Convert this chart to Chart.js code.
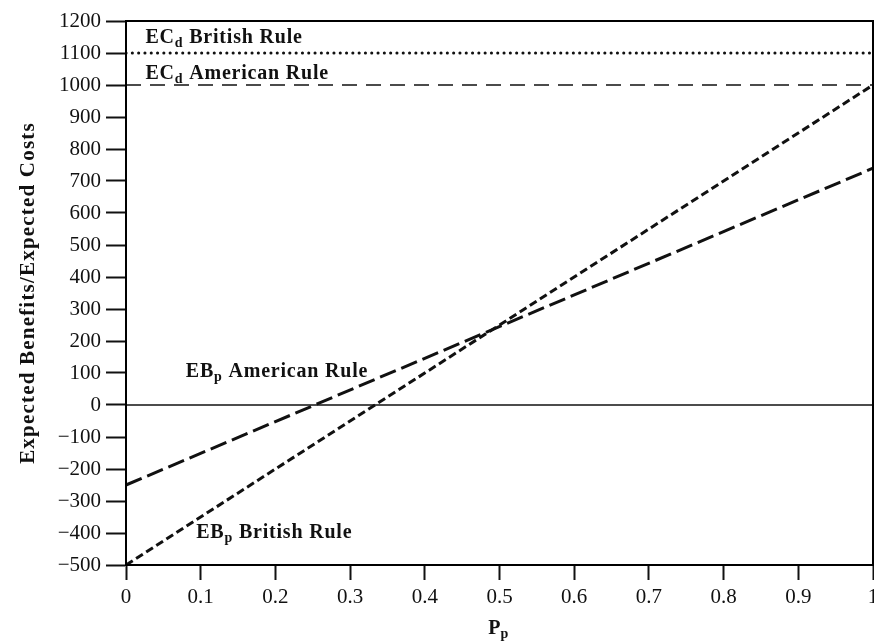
<!DOCTYPE html>
<html lang="en">
<head>
    <meta charset="UTF-8">
    <title>Expected Benefits / Expected Costs</title>
    <style>
        body {
            margin: 0;
            background: #ffffff;
            overflow: hidden;
        }

        .wrap {
            width: 874px;
            height: 642px;
            overflow: hidden;
        }

        .chart-box {
            width: 890px;
            height: 642px;
        }
    </style>
    <script src="https://cdn.jsdelivr.net/npm/chart.js"></script>
</head>
<body>
    <div class="wrap">
        <div class="chart-box">
            <canvas id="chart"></canvas>
        </div>
    </div>

    <script>
        // values
        const pp = [0, 1];
        const ebAmerican = [-250, 740];
        const ebBritish = [-500, 1000];
        const ecAmerican = [1000, 1000];
        const ecBritish = [1100, 1100];
        const zeroLine = [0, 0];

        const yTicks = { min: -500, max: 1200, step: 100 };
        const xTicks = { min: 0, max: 1, step: 0.1 };

        const yTitle = 'Expected Benefits/Expected Costs';

        // text labels inside the plot (main, subscript, rest) at data positions
        const notes = [
            { main: 'EC', sub: 'd', rest: ' British Rule', x: 0.026, y: 1146 },
            { main: 'EC', sub: 'd', rest: ' American Rule', x: 0.026, y: 1036 },
            { main: 'EB', sub: 'p', rest: ' American Rule', x: 0.08, y: 104 },
            { main: 'EB', sub: 'p', rest: ' British Rule', x: 0.094, y: -400 }
        ];

        const SERIF = '"Liberation Serif", "DejaVu Serif", serif';

        function toPoints(ys) {
            return pp.map((x, i) => ({ x: x, y: ys[i] }));
        }

        function drawSubText(ctx, parts, x, y, size) {
            ctx.font = 'bold ' + size + 'px ' + SERIF;
            ctx.fillText(parts.main, x, y);
            let cx = x + ctx.measureText(parts.main).width;
            ctx.font = 'bold ' + Math.round(size * 0.68) + 'px ' + SERIF;
            ctx.fillText(parts.sub, cx, y + size * 0.28);
            cx += ctx.measureText(parts.sub).width;
            ctx.font = 'bold ' + size + 'px ' + SERIF;
            if (parts.rest) ctx.fillText(parts.rest, cx, y);
        }

        const textPlugin = {
            id: 'textPlugin',
            afterDraw(chart) {
                const ctx = chart.ctx;
                const xs = chart.scales.x;
                const ys = chart.scales.y;
                const area = chart.chartArea;
                ctx.save();
                // frame round the plot
                ctx.strokeStyle = '#000';
                ctx.lineWidth = 2;
                ctx.strokeRect(area.left, area.top, area.right - area.left, area.bottom - area.top);

                ctx.fillStyle = '#111';
                ctx.textBaseline = 'middle';
                ctx.textAlign = 'left';
                ctx.letterSpacing = '0.8px';
                notes.forEach(n => {
                    drawSubText(ctx, n, xs.getPixelForValue(n.x), ys.getPixelForValue(n.y), 20);
                });

                // x axis title P_p
                ctx.letterSpacing = '0px';
                drawSubText(ctx, { main: 'P', sub: 'p', rest: '' }, xs.getPixelForValue(0.485), area.bottom + 64, 20);

                // y axis title, rotated
                ctx.save();
                ctx.translate(29, (area.top + area.bottom) / 2);
                ctx.rotate(-Math.PI / 2);
                ctx.textAlign = 'center';
                ctx.letterSpacing = '1.2px';
                ctx.font = 'bold 21px ' + SERIF;
                ctx.fillText(yTitle, 0, 0);
                ctx.restore();

                ctx.restore();
            }
        };

        const lineStyle = (dash, width, cap) => ({
            borderColor: '#111',
            borderWidth: width,
            borderDash: dash,
            borderCapStyle: cap || 'butt',
            pointRadius: 0,
            fill: false,
            tension: 0
        });

        new Chart(document.getElementById('chart').getContext('2d'), {
            type: 'line',
            data: {
                datasets: [
                    Object.assign({ label: 'EBp American Rule', data: toPoints(ebAmerican) }, lineStyle([17, 6], 3)),
                    Object.assign({ label: 'EBp British Rule', data: toPoints(ebBritish) }, lineStyle([8, 4], 3)),
                    Object.assign({ label: 'ECd American Rule', data: toPoints(ecAmerican) }, lineStyle([15, 9], 1.6)),
                    Object.assign({ label: 'ECd British Rule', data: toPoints(ecBritish) }, lineStyle([0.1, 6.2], 3, 'round')),
                    Object.assign({ label: 'zero', data: toPoints(zeroLine) }, lineStyle([], 1.5))
                ]
            },
            options: {
                responsive: true,
                maintainAspectRatio: false,
                animation: false,
                layout: { padding: { top: 21, right: 17, left: 0, bottom: 0 } },
                plugins: {
                    legend: { display: false },
                    tooltip: { enabled: false }
                },
                scales: {
                    x: {
                        type: 'linear',
                        min: xTicks.min,
                        max: xTicks.max,
                        afterFit: s => { s.height = 77; },
                        ticks: {
                            stepSize: xTicks.step,
                            color: '#111',
                            padding: 5,
                            maxRotation: 0,
                            font: { family: SERIF, size: 21 },
                            callback: v => (v === 0 || v === 1) ? String(v) : v.toFixed(1)
                        },
                        grid: {
                            drawOnChartArea: false,
                            drawTicks: true,
                            tickLength: 15,
                            tickWidth: 2,
                            tickColor: '#111'
                        },
                        border: { color: '#111', width: 2 }
                    },
                    y: {
                        min: yTicks.min,
                        max: yTicks.max,
                        afterFit: s => { s.width = 126; },
                        ticks: {
                            stepSize: yTicks.step,
                            color: '#111',
                            padding: 5,
                            font: { family: SERIF, size: 21 },
                            callback: v => v < 0 ? '\u2212' + Math.abs(v) : String(v)
                        },
                        grid: {
                            drawOnChartArea: false,
                            drawTicks: true,
                            tickLength: 20,
                            tickWidth: 2,
                            tickColor: '#111'
                        },
                        border: { color: '#111', width: 2 }
                    }
                }
            },
            plugins: [textPlugin]
        });
    </script>
</body>
</html>
